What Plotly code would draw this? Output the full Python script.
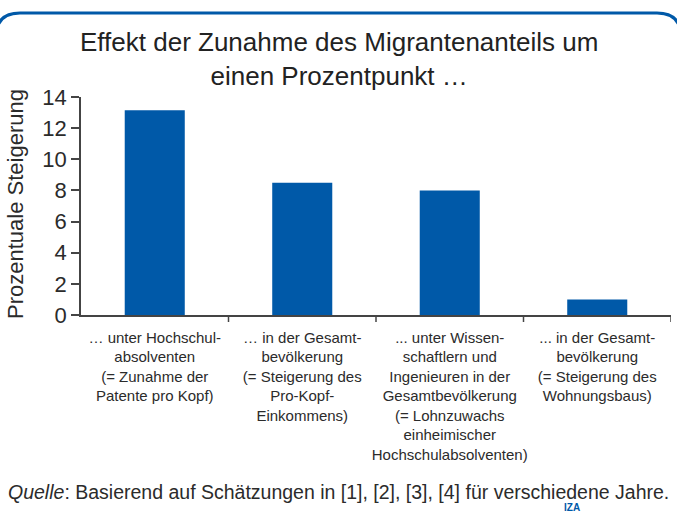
import plotly.graph_objects as go

# ---- data ----
categories = [
    "… unter Hochschul-<br>absolventen<br>(= Zunahme der<br>Patente pro Kopf)",
    "… in der Gesamt-<br>bevölkerung<br>(= Steigerung des<br>Pro-Kopf-<br>Einkommens)",
    "... unter Wissen-<br>schaftlern und<br>Ingenieuren in der<br>Gesamtbevölkerung<br>(= Lohnzuwachs<br>einheimischer<br>Hochschulabsolventen)",
    "... in der Gesamt-<br>bevölkerung<br>(= Steigerung des<br>Wohnungsbaus)",
]
values = [13.15, 8.5, 8.0, 1.0]
y_ticks = [0, 2, 4, 6, 8, 10, 12, 14]

title_text = "Effekt der Zunahme des Migrantenanteils um<br>einen Prozentpunkt …"
y_title = "Prozentuale Steigerung"
source_text = "<i>Quelle</i>: Basierend auf Schätzungen in [1], [2], [3], [4] für verschiedene Jahre."

# ---- layout constants ----
W, H = 677, 516
ML, MR, MT, MB = 81, 6, 97, 201
PW, PH = W - ML - MR, H - MT - MB
BLUE = "#0059A8"
TXT = "#2b2b2b"
FONT = "Liberation Sans, Arial, sans-serif"


def px_x(x):
    return (x - ML) / PW


def px_y(y):
    return 1 - (y - MT) / PH


fig = go.Figure(
    go.Bar(
        x=list(range(len(categories))),
        y=values,
        marker=dict(color=BLUE, line=dict(width=0)),
        width=0.407,
        hoverinfo="y",
    )
)

fig.update_layout(
    width=W,
    height=H,
    margin=dict(l=ML, r=MR, t=MT, b=MB, pad=0),
    paper_bgcolor="white",
    plot_bgcolor="white",
    showlegend=False,
    font=dict(family=FONT, color=TXT),
)

fig.update_xaxes(
    type="linear",
    range=[-0.5, len(categories) - 0.5],
    tickmode="array",
    tickvals=list(range(len(categories))),
    ticktext=categories,
    showticklabels=True,
    ticks="",
    ticklabelstandoff=8,
    showline=True,
    linecolor="#444",
    linewidth=1.5,
    showgrid=False,
    zeroline=False,
    tickfont=dict(size=15, color=TXT, family=FONT),
    fixedrange=True,
)
fig.update_yaxes(
    range=[0, 14],
    tickmode="array",
    tickvals=y_ticks,
    ticks="outside",
    ticklen=8,
    tickwidth=1.5,
    tickcolor="#444",
    showline=True,
    linecolor="#444",
    linewidth=1.5,
    showgrid=False,
    zeroline=False,
    tickfont=dict(size=22, color=TXT, family=FONT),
    fixedrange=True,
)

# boundary tick marks on x axis (between categories)
shapes = []
for b in [i + 0.5 for i in range(len(categories))]:
    shapes.append(dict(
        type="line", xref="x", yref="paper",
        x0=b, x1=b, y0=0, y1=px_y(MT + PH + 7),
        line=dict(color="#444", width=1.5),
    ))

# rounded blue frame along the top
r = 24
x0, x1, ytop, ybot = -4, W + 4, 13, H + 40
path = (
    f"M {px_x(x0)},{px_y(ybot)} "
    f"L {px_x(x0)},{px_y(ytop + r)} "
    f"Q {px_x(x0)},{px_y(ytop)} {px_x(x0 + r)},{px_y(ytop)} "
    f"L {px_x(x1 - r)},{px_y(ytop)} "
    f"Q {px_x(x1)},{px_y(ytop)} {px_x(x1)},{px_y(ytop + r)} "
    f"L {px_x(x1)},{px_y(ybot)}"
)
shapes.append(dict(type="path", xref="paper", yref="paper", path=path,
                   line=dict(color=BLUE, width=3)))
fig.update_layout(shapes=shapes)

annotations = [
    dict(text=title_text, xref="paper", yref="paper",
         x=px_x(338.5), y=px_y(25), xanchor="center", yanchor="top",
         showarrow=False, font=dict(size=26, color="#222", family=FONT)),
    dict(text=y_title, xref="paper", yref="paper", textangle=-90,
         x=px_x(15), y=px_y(204), xanchor="center", yanchor="middle",
         showarrow=False, font=dict(size=22, color=TXT, family=FONT)),
    dict(text=source_text, xref="paper", yref="paper",
         x=px_x(6), y=px_y(492), xanchor="left", yanchor="middle",
         showarrow=False, font=dict(size=19.5, color=TXT, family=FONT)),
    dict(text="<b>IZA</b>", xref="paper", yref="paper",
         x=px_x(572), y=px_y(515), xanchor="center", yanchor="bottom",
         showarrow=False, font=dict(size=10, color=BLUE, family=FONT)),
]
fig.update_layout(annotations=annotations)

fig.write_html(
    "out.html",
    config={"displayModeBar": False},
    post_script="document.body.style.margin='0';document.body.style.padding='0';",
)
